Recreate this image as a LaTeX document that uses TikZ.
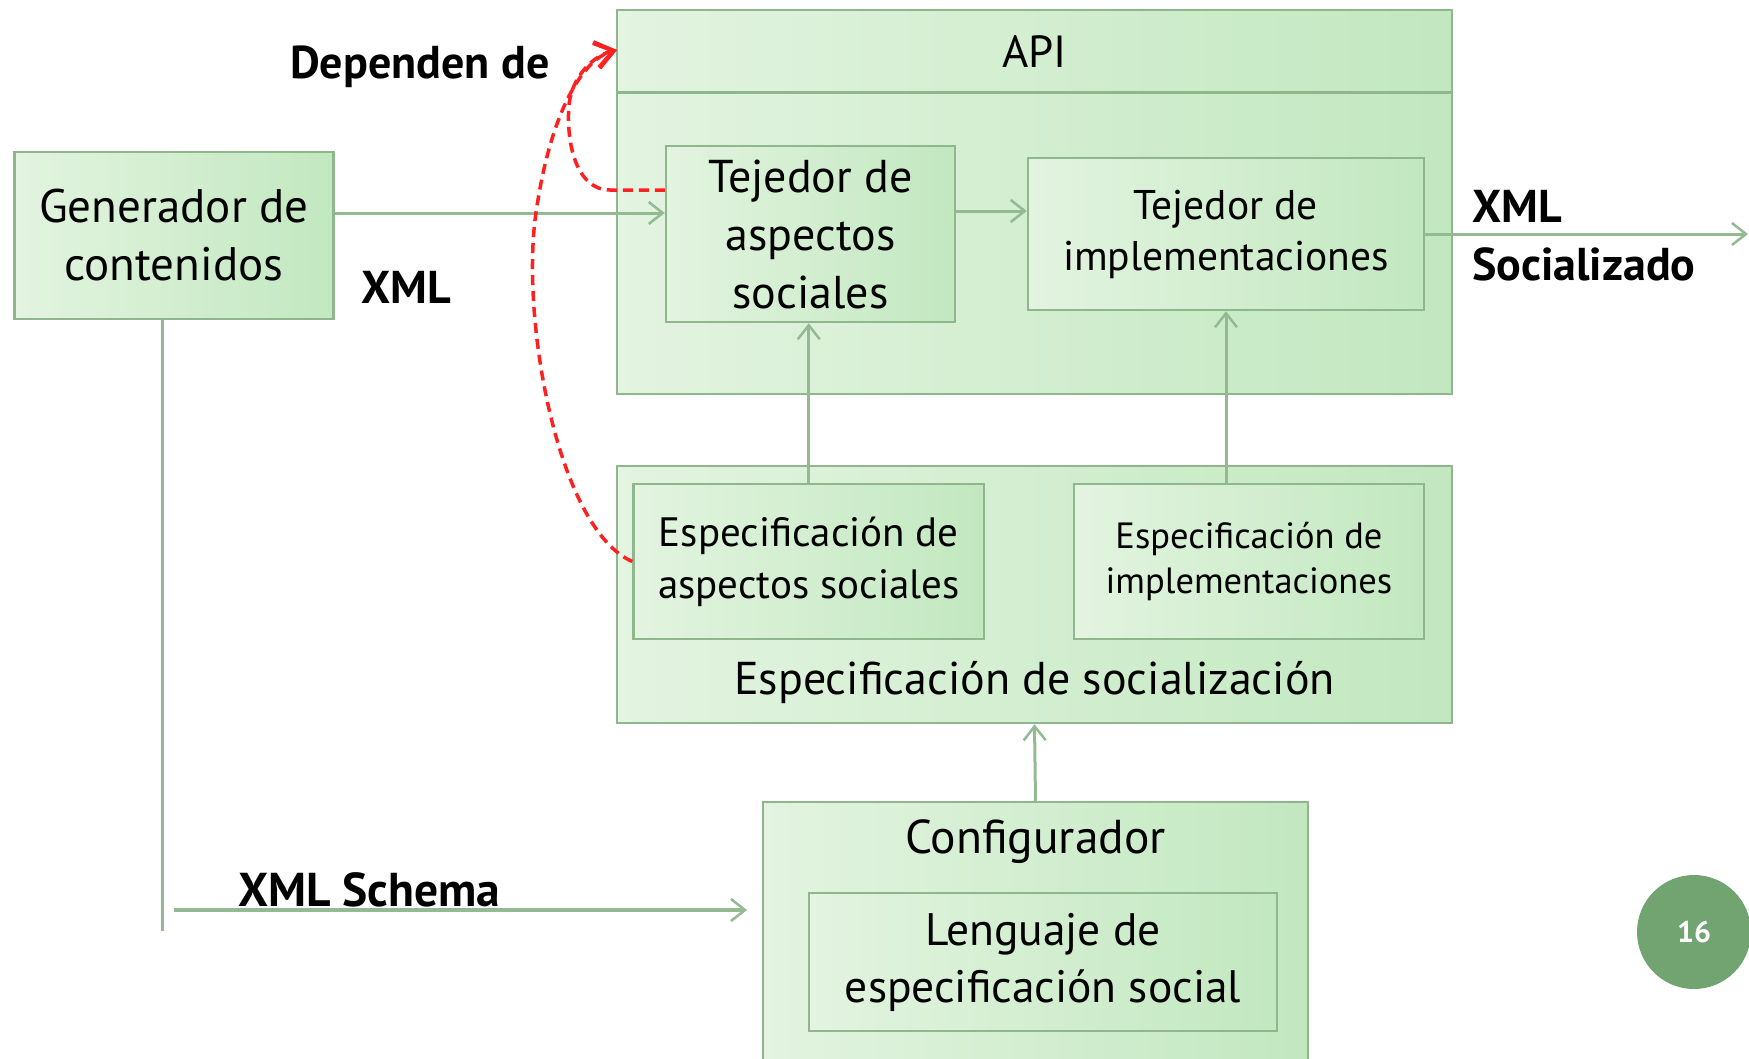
\documentclass[tikz,border=0pt]{standalone}
\usepackage{fontspec}
\setmainfont{PT Sans}
\usetikzlibrary{arrows.meta,calc}
\definecolor{gL}{HTML}{E3F4E0}
\definecolor{gD}{HTML}{C2E8C0}
\definecolor{bord}{HTML}{8FB68C}
\definecolor{arr}{HTML}{93BA92}
\definecolor{dep}{HTML}{FF2020}
\definecolor{badge}{HTML}{72A472}
\tikzset{
  gbox/.style={draw=bord, line width=2.5pt, left color=gL, right color=gD,
    inner sep=0pt, align=center, text=black},
  garrow/.style={draw=arr, line width=3pt, -{Straight Barb[length=14pt,width=22pt,line width=2.5pt]}},
  gline/.style={draw=arr, line width=3pt},
  redarrow/.style={draw=dep, line width=3.5pt, dash pattern=on 10pt off 6pt,
    -{Straight Barb[length=18pt,width=26pt,line width=4pt]}},
  lbl/.style={inner sep=0pt, anchor=base west, font=\fontsize{46}{58}\selectfont\bfseries},
}
\begin{document}
\begin{tikzpicture}[x=1pt,y=-1pt]
\useasboundingbox (0,0) rectangle (1749,1058);
\clip (0,0) rectangle (1749,1058);

% API block
\node[gbox, minimum width=835pt, minimum height=384pt] (api) at (1034.5,202) {};
\coordinate (hdl) at (617,92.6);
\coordinate (hdr) at (1452,92.6);
\draw[draw=bord, line width=2.5pt] (hdl) -- (hdr);
\node[inner sep=0pt, font=\fontsize{45}{50}\selectfont] (apil) at (1034.5,51) {API};
\node[gbox, minimum width=289pt, minimum height=176pt, font=\fontsize{46}{58}\selectfont] (tas) at (810.5,234) {Tejedor de\\aspectos\\sociales};
\node[gbox, minimum width=396pt, minimum height=152pt, font=\fontsize{41.5}{51}\selectfont] (tim) at (1226,234) {Tejedor de\\implementaciones};

% Especificacion de socializacion block
\node[gbox, minimum width=835pt, minimum height=257pt] (soc) at (1034.5,594.5) {};
\node[gbox, minimum width=350.5pt, minimum height=155pt, font=\fontsize{41}{52}\selectfont] (eas) at (808.75,561.5) {Especificación de\\aspectos sociales};
\node[gbox, minimum width=350pt, minimum height=155pt, font=\fontsize{36.5}{45}\selectfont] (eim) at (1249,561.5) {Especificación de\\implementaciones};
\node[inner sep=0pt, font=\fontsize{46}{50}\selectfont] (socl) at (1034.5,683) {Especificación de socialización};

% Generador
\node[gbox, minimum width=319pt, minimum height=167pt, font=\fontsize{47}{58}\selectfont] (gen) at (174,235.3) {Generador de\\contenidos};

% Configurador
\node[gbox, minimum width=545pt, minimum height=278pt] (conf) at (1035.5,941) {};
\node[inner sep=0pt, font=\fontsize{47.5}{50}\selectfont] (confl) at (1035.5,842) {Configurador};
\node[gbox, minimum width=468pt, minimum height=138pt, font=\fontsize{45.5}{57}\selectfont] (leng) at (1043,962) {Lenguaje de\\especificación social};

% badge
\node[circle, fill=badge, minimum size=114pt, inner sep=0pt, text=white, font=\fontsize{30}{34}\selectfont\bfseries] (pg) at (1694,932) {16};

% labels
\node[lbl] (ldep) at (290,78) {Dependen de};
\node[lbl] (lxml) at (361,303) {XML};
\node[lbl, align=left, anchor=north west] (lxs) at (1472,190) {XML\\Socializado};
\node[lbl, font=\fontsize{47.5}{58}\selectfont\bfseries] (lsch) at (238,906) {XML Schema};

% green connectors
\draw[garrow] (gen.east |- 0,213) -- (tas.west |- 0,213);
\draw[garrow] (tas.east |- 0,211) -- (tim.west |- 0,211);
\coordinate (outR) at (1748,234);
\draw[garrow] (tim.east |- outR) -- (outR);
\draw[garrow] (eas.north) -- (eas.north |- tas.south);
\draw[garrow] (tim.south |- eim.north) -- (tim.south);
\draw[garrow] (conf.north) -- (soc.south);
\coordinate (genDown) at (162,931);
\draw[gline] (gen.south -| genDown) -- (genDown);
\coordinate (schStart) at (174,910);
\coordinate (schEnd) at (747,910);
\draw[garrow, line width=3.5pt] (schStart) -- (schEnd);

% red dependency curves
\coordinate (depTip) at (617,50);
\draw[redarrow] (tas.west |- 0,190) -- (610,190) .. controls (575,190) and (566,140) .. (569,105) .. controls (572,75) and (595,55) .. (depTip);
\draw[redarrow] (eas.west) .. controls (560,530) and (522,330) .. (535,220) .. controls (548,120) and (580,60) .. (depTip);
\end{tikzpicture}
\end{document}
